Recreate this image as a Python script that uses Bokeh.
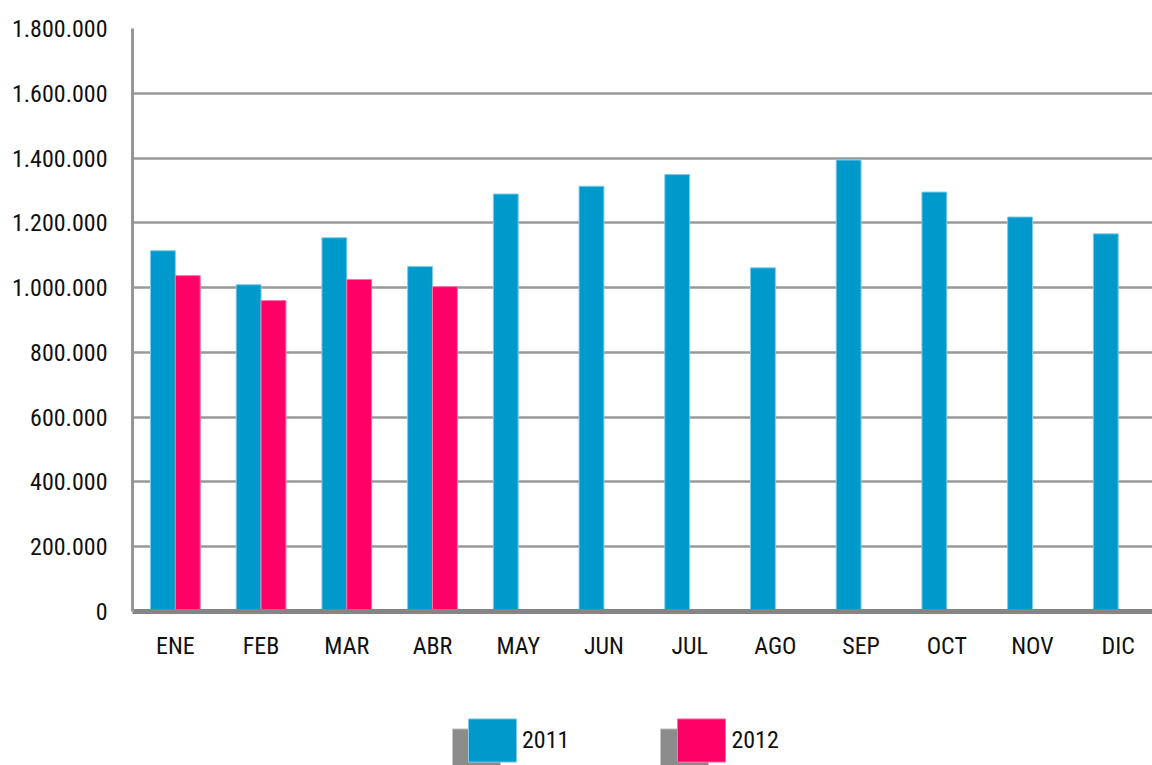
from bokeh.plotting import figure
from bokeh.layouts import column
from bokeh.models import ColumnDataSource, Range1d, FixedTicker, Legend, LegendItem
from bokeh.embed import file_html
from bokeh.resources import INLINE

months = ["ENE", "FEB", "MAR", "ABR", "MAY", "JUN", "JUL", "AGO", "SEP", "OCT", "NOV", "DIC"]
vals_2011 = [1114000, 1009000, 1154000, 1065000, 1289000, 1313000, 1349000, 1061000, 1394000, 1295000, 1218000, 1166000]
months_2012 = ["ENE", "FEB", "MAR", "ABR"]
vals_2012 = [1037000, 960000, 1025000, 1003000]
y_ticks = [0, 200000, 400000, 600000, 800000, 1000000, 1200000, 1400000, 1600000, 1800000]
y_tick_labels = ["0", "200.000", "400.000", "600.000", "800.000", "1.000.000",
                 "1.200.000", "1.400.000", "1.600.000", "1.800.000"]
series_names = ["2011", "2012"]

FONT = "Liberation Sans Narrow, Arial Narrow, Roboto Condensed, sans-serif"
BLUE = "#0099CC"
PINK = "#FF0066"
BLUE_EDGE = "#7FCCE8"
PINK_EDGE = "#FF70A8"
BAR_W = 0.29

x_centers = [i + 0.5 for i in range(len(months))]
src11 = ColumnDataSource(dict(x=[c - BAR_W / 2 for c in x_centers], top=vals_2011))
src12 = ColumnDataSource(dict(x=[x_centers[months.index(m)] + BAR_W / 2 for m in months_2012], top=vals_2012))

p = figure(width=1152, height=680, output_backend="svg", toolbar_location=None,
           x_range=Range1d(0, 11.90), y_range=Range1d(0, 1800000),
           min_border_left=132, min_border_right=0, min_border_top=28, min_border_bottom=69)
p.outline_line_color = None

p.vbar(x="x", top="top", width=BAR_W, bottom=0, source=src11,
       fill_color=BLUE, line_color=BLUE_EDGE, line_width=1)
p.vbar(x="x", top="top", width=BAR_W, bottom=0, source=src12,
       fill_color=PINK, line_color=PINK_EDGE, line_width=1)

# y axis
p.yaxis.ticker = FixedTicker(ticks=y_ticks)
p.yaxis.major_label_overrides = {t: l for t, l in zip(y_ticks, y_tick_labels)}
p.yaxis.axis_line_color = "#969696"
p.yaxis.axis_line_width = 3
p.yaxis.major_tick_line_color = None
p.yaxis.minor_tick_line_color = None
p.yaxis.major_label_standoff = 19
p.yaxis.major_label_text_font = FONT
p.yaxis.major_label_text_font_size = "24px"
p.yaxis.major_label_text_color = "#111111"

# x axis
p.xaxis.ticker = FixedTicker(ticks=x_centers)
p.xaxis.major_label_overrides = {c: m for c, m in zip(x_centers, months)}
p.xaxis.axis_line_color = "#858585"
p.xaxis.axis_line_width = 5
p.xaxis.major_tick_line_color = None
p.xaxis.minor_tick_line_color = None
p.xaxis.major_label_standoff = 14
p.xaxis.major_label_text_font = FONT
p.xaxis.major_label_text_font_size = "24px"
p.xaxis.major_label_text_color = "#111111"

p.xgrid.grid_line_color = None
p.ygrid.ticker = FixedTicker(ticks=y_ticks)
p.ygrid.grid_line_color = "#999999"
p.ygrid.grid_line_width = 2.5

# legend figure (frame is aligned with the main plot frame by the column layout)
lf = figure(width=1152, height=85, output_backend="svg", toolbar_location=None,
            x_range=Range1d(0, 1), y_range=Range1d(0, 1),
            x_axis_location=None, y_axis_location=None,
            min_border_left=132, min_border_right=0,
            min_border_top=0, min_border_bottom=0)
lf.outline_line_color = None
lf.xgrid.grid_line_color = None
lf.ygrid.grid_line_color = None

# placeholder glyphs (outside the visible range) that only feed the legend swatches
dummy = dict(x=[5], top=[5], bottom=4, width=1)
sh1 = lf.vbar(**dummy, fill_color="#8c8c8c", line_color="#c8c8c8")
sh2 = lf.vbar(**dummy, fill_color="#8c8c8c", line_color="#c8c8c8")
l1 = lf.vbar(**dummy, fill_color=BLUE, line_color=BLUE_EDGE)
l2 = lf.vbar(**dummy, fill_color=PINK, line_color=PINK_EDGE)

common = dict(orientation="horizontal", glyph_width=60, glyph_height=54,
              label_standoff=0, spacing=102, padding=0, margin=0,
              border_line_color=None, background_fill_alpha=0,
              label_text_font=FONT, label_text_font_size="24px",
              label_width=46, label_height=54)

shadow = Legend(items=[LegendItem(label=" ", renderers=[sh1]),
                       LegendItem(label="  ", renderers=[sh2])],
                location=(314, -12), label_text_alpha=0, **common)
legend = Legend(items=[LegendItem(label=series_names[0], renderers=[l1]),
                       LegendItem(label=series_names[1], renderers=[l2])],
                location=(330, -2), label_text_color="#111111", **common)
lf.add_layout(shadow, "center")
lf.add_layout(legend, "center")

layout = column(p, lf, spacing=0)
open("out.html", "w").write(file_html(layout, INLINE))
